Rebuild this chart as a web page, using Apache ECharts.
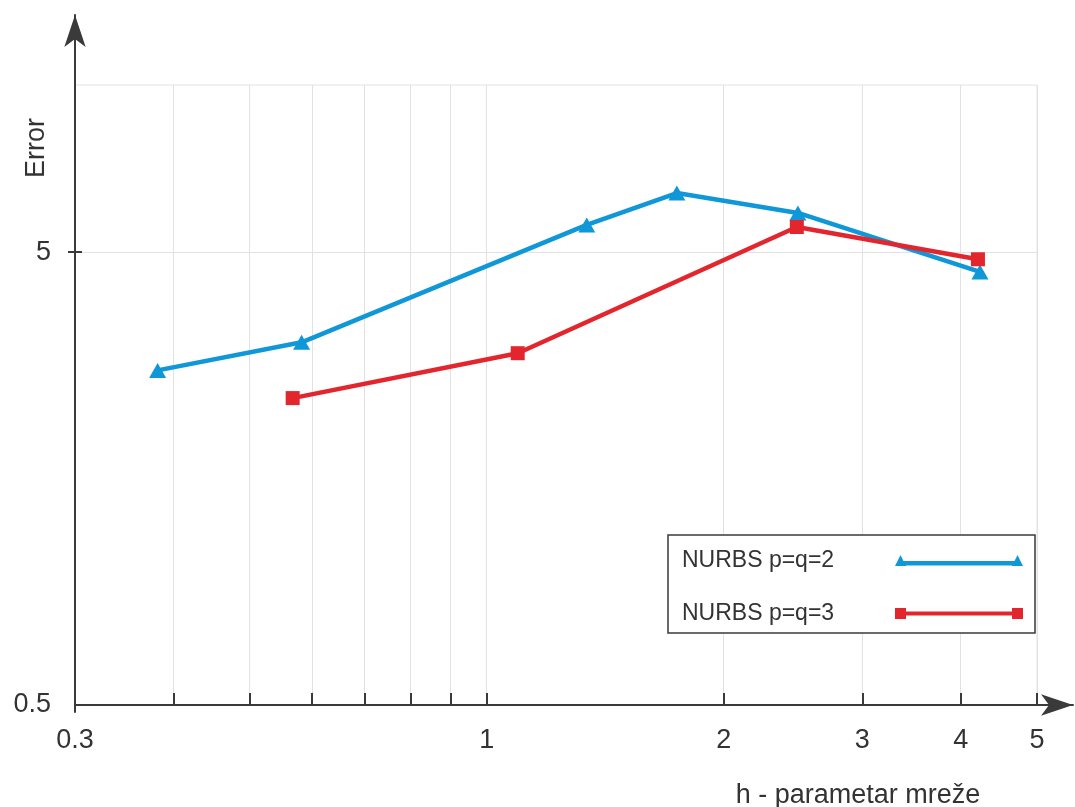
<!DOCTYPE html>
<html>
<head>
<meta charset="utf-8">
<script src="https://cdn.jsdelivr.net/npm/echarts@6/dist/echarts.min.js"></script>
<style>
html,body{margin:0;padding:0;background:#ffffff;}
#chart{width:1075px;height:807px;}
</style>
</head>
<body>
<div id="chart"></div>
<script>
// ---- data ----
const seriesNames = ['NURBS p=q=2', 'NURBS p=q=3'];
const hP2   = [0.382, 0.582, 1.340, 1.744, 2.485, 4.232];
const errP2 = [2.74, 3.16, 5.74, 6.75, 6.10, 4.52];
const hP3   = [0.567, 1.095, 2.477, 4.207];
const errP3 = [2.38, 2.99, 5.68, 4.82];
const xTickValues  = [0.4, 0.5, 0.6, 0.7, 0.8, 0.9, 1, 2, 3, 4, 5];
const xLabelValues = [0.3, 1, 2, 3, 4, 5];
const yTickValues  = [5];
const yLabelValues = [0.5, 5];
const xTitle = 'h - parametar mreže';
const yTitle = 'Error';

// ---- style ----
const FONT = "'Liberation Sans', Arial, Helvetica, sans-serif";
const BLUE = '#1097d8';
const RED = '#e3262d';
const AXIS = '#3a3a3a';
const GRID = '#e2e2e2';
const TEXT = '#333333';

const blueIcon = 'path://M0,11 L5.5,0 L11,11 Z M117,11 L122.5,0 L128,11 Z M5,6 L123,6 L123,10.5 L5,10.5 Z';
const redIcon  = 'path://M0,0 L11,0 L11,11 L0,11 Z M117,0 L128,0 L128,11 L117,11 Z M11,3.5 L117,3.5 L117,7.5 L11,7.5 Z';

const chart = echarts.init(document.getElementById('chart'), null, {renderer: 'canvas'});

const option = {
  animation: false,
  backgroundColor: '#ffffff',
  grid: [
    {left: 75, right: 38, top: 85, bottom: 102, show: true, borderColor: GRID, borderWidth: 1, backgroundColor: 'transparent'},
    {left: 75, right: 2, top: 15, bottom: 95}
  ],
  xAxis: [
    {
      type: 'log', logBase: 10, gridIndex: 0, min: 0.3, max: 5,
      axisLine: {show: false},
      axisTick: {show: true, inside: true, length: 12, customValues: xTickValues, lineStyle: {color: AXIS, width: 2}},
      axisLabel: {customValues: xLabelValues, margin: 22, fontSize: 27, color: TEXT, fontFamily: FONT,
                  formatter: v => String(+Number(v).toPrecision(6))},
      splitLine: {show: true, lineStyle: {color: GRID, width: 1}},
      minorTick: {show: false}, minorSplitLine: {show: false}
    },
    {
      type: 'value', gridIndex: 1, min: 0, max: 1, offset: -7,
      axisLine: {show: true, onZero: false, symbol: ['none', 'arrow'], symbolSize: [16, 32], lineStyle: {color: AXIS, width: 2}},
      axisTick: {show: false}, axisLabel: {show: false}, splitLine: {show: false}
    }
  ],
  yAxis: [
    {
      type: 'log', logBase: 10, gridIndex: 0, min: 0.5, max: 11.69,
      axisLine: {show: false},
      axisTick: {show: true, inside: false, length: 7, customValues: yTickValues, lineStyle: {color: AXIS, width: 2}},
      axisLabel: {customValues: yLabelValues, margin: 24, fontSize: 27, color: TEXT, fontFamily: FONT,
                  formatter: v => String(+Number(v).toPrecision(6))},
      splitLine: {show: true, lineStyle: {color: GRID, width: 1}}
    },
    {
      type: 'log', logBase: 10, gridIndex: 0, min: 0.5, max: 11.69, position: 'left',
      axisLine: {show: false},
      axisTick: {show: true, inside: true, length: 7, customValues: yTickValues, lineStyle: {color: AXIS, width: 2}},
      axisLabel: {show: false}, splitLine: {show: false}
    },
    {
      type: 'value', gridIndex: 1, min: 0, max: 1,
      axisLine: {show: true, onZero: false, symbol: ['none', 'arrow'], symbolSize: [16, 32], lineStyle: {color: AXIS, width: 2}},
      axisTick: {show: false}, axisLabel: {show: false}, splitLine: {show: false}
    }
  ],
  legend: {
    orient: 'vertical', left: 668, top: 535, align: 'right',
    itemWidth: 128, itemHeight: 11, itemGap: 30,
    padding: [14, 12, 8, 14],
    backgroundColor: '#ffffff', borderColor: AXIS, borderWidth: 1.5,
    selectedMode: false,
    data: [
      {name: seriesNames[0], icon: blueIcon, itemStyle: {color: BLUE, borderWidth: 0}},
      {name: seriesNames[1], icon: redIcon, itemStyle: {color: RED, borderWidth: 0}}
    ],
    formatter: n => '{t|' + n + '}',
    textStyle: {
      color: TEXT, fontFamily: FONT, fontSize: 23,
      rich: {t: {width: 208, align: 'left', fontSize: 23, fontFamily: FONT, color: TEXT}}
    }
  },
  graphic: [
    {type: 'text', x: 37, y: 148, rotation: Math.PI / 2,
     style: {text: yTitle, x: 0, y: 0, align: 'center', verticalAlign: 'middle', textAlign: 'center', textVerticalAlign: 'middle',
             fill: TEXT, font: '27px ' + FONT}},
    {type: 'text', x: 858, y: 796,
     style: {text: xTitle, x: 0, y: 0, align: 'center', verticalAlign: 'middle', textAlign: 'center', textVerticalAlign: 'middle',
             fill: TEXT, font: '27px ' + FONT}}
  ],
  series: [
    {
      name: seriesNames[0], type: 'line', xAxisIndex: 0, yAxisIndex: 0,
      data: hP2.map((h, i) => [h, errP2[i]]),
      symbol: 'triangle', symbolSize: [17, 15],
      lineStyle: {width: 4.5, color: BLUE}, itemStyle: {color: BLUE}, z: 3
    },
    {
      name: seriesNames[1], type: 'line', xAxisIndex: 0, yAxisIndex: 0,
      data: hP3.map((h, i) => [h, errP3[i]]),
      symbol: 'rect', symbolSize: 14,
      lineStyle: {width: 4.5, color: RED}, itemStyle: {color: RED}, z: 3
    }
  ]
};
chart.setOption(option);
</script>
</body>
</html>
